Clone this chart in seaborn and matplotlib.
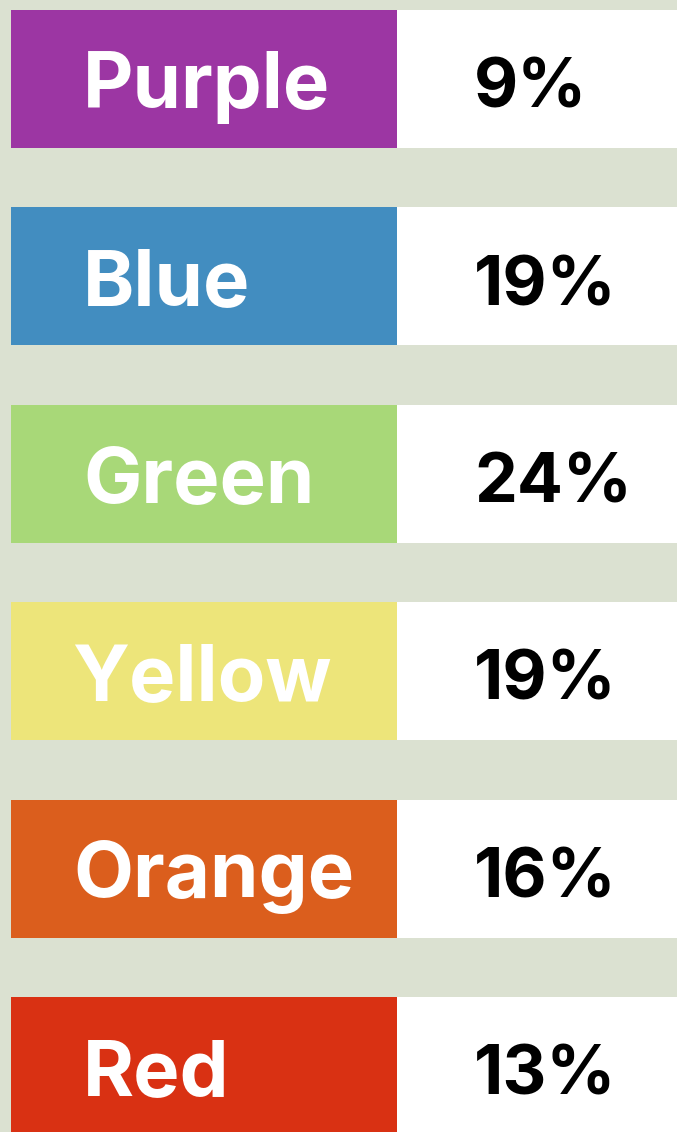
import numpy as np
import pandas as pd
import matplotlib
matplotlib.use('Agg')
import matplotlib.pyplot as plt
import seaborn as sns

sns.set_theme(style='white')
plt.rcParams['font.family'] = ['Inter', 'DejaVu Sans']

# datos
colores = ['Purple', 'Blue', 'Green', 'Yellow', 'Orange', 'Red']
porcentajes = [9, 19, 24, 19, 16, 13]
paleta = ['#9c36a3', '#428dc0', '#a8d878', '#ede57a', '#db5e1d', '#d93113']

df = pd.DataFrame({'color': colores, 'pct': porcentajes})
df['fondo'] = 666
df['caja'] = 386

# desplazamiento del texto de cada etiqueta (estilo)
x_etiqueta = {'Yellow': 61, 'Orange': 62}

fondo = '#dbe1d1'
fig = plt.figure(figsize=(6.77, 11.32), dpi=100, facecolor=fondo)
ax = fig.add_axes([0, 0, 1, 1])
ax.set_facecolor(fondo)

# cajas blancas (columna de porcentajes)
sns.barplot(data=df, x='fondo', y='color', color='white', saturation=1,
            width=0.70, orient='h', ax=ax)
# cajas de color
sns.barplot(data=df, x='caja', y='color', hue='color', palette=paleta,
            saturation=1, width=0.70, orient='h', legend=False, ax=ax)

for p in ax.patches:
    p.set_edgecolor('none')
    p.set_linewidth(0)

# textos
for i, (c, v) in enumerate(zip(colores, porcentajes)):
    ax.text(x_etiqueta.get(c, 72), i + 0.145, c, color='white', fontsize=56,
            fontweight='bold', ha='left', va='baseline')
    ax.text(463, i + 0.145, f'{v}%', color='black', fontsize=49,
            fontweight='bold', ha='left', va='baseline')

ax.set_xlim(-11, 666)
ax.set_ylim(5.334, -0.40)
ax.set_xlabel('')
ax.set_ylabel('')
ax.set_xticks([])
ax.set_yticks([])
for s in ax.spines.values():
    s.set_visible(False)

fig.savefig('out.png', dpi=100, facecolor=fondo)
